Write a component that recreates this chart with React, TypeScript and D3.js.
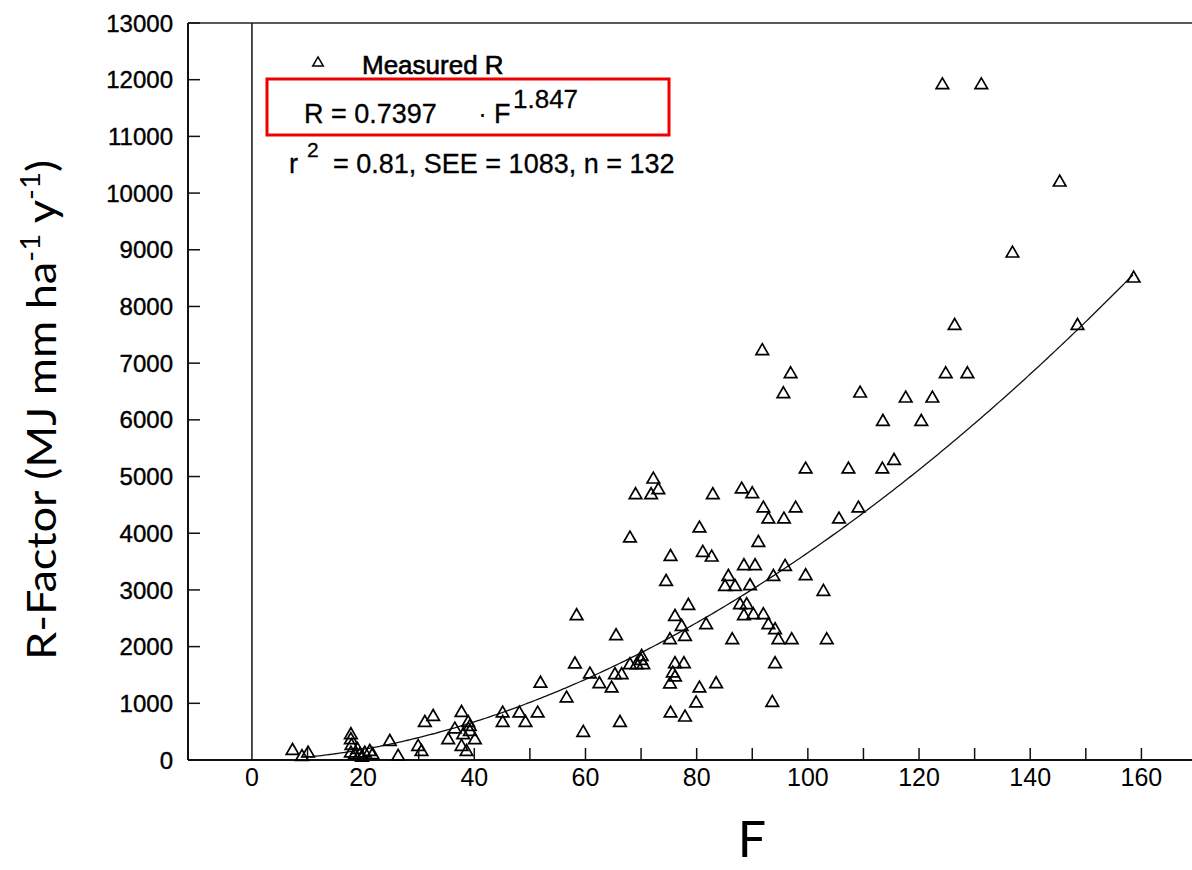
import React from "react";
import * as d3 from "d3";

// Measured points: F (x) and R-factor (y)
const measuredF = [
  7.3, 10.1, 9.0,
  17.8, 17.8, 17.9, 17.8, 18.5, 19.4, 20.3, 21.2, 21.7, 19.8, 19.0,
  24.8, 26.3, 29.9, 30.5,
  31.1, 32.6,
  37.7, 38.9, 36.5, 35.3, 38.0, 39.2, 40.1, 37.7, 38.6, 39.2,
  45.1, 45.1, 48.1, 49.2, 51.4, 51.9,
  56.6, 58.1, 58.4, 59.6, 60.8, 62.5, 64.7, 65.3, 66.5, 65.5, 66.2,
  68.0, 69.2, 70.4, 70.1, 70.0,
  68.0, 69.0, 71.8, 72.2, 73.1,
  74.5, 75.3, 75.2, 76.1, 77.3, 77.9, 78.5,
  76.1, 77.7, 75.7, 75.2, 76.1, 75.3, 77.9, 79.9, 80.5, 83.5,
  80.5, 81.1, 82.7, 81.7, 82.9,
  85.7, 85.1, 86.9, 89.6, 86.4,
  87.8, 89.0, 88.5, 90.2, 92.0, 92.9, 94.1, 94.7, 97.1, 103.4, 94.1, 93.6,
  88.1, 90.0, 92.0, 92.9, 95.7, 97.8, 91.1, 88.5, 90.5, 93.8, 95.9, 99.6, 102.8, 105.6, 109.1,
  99.6, 107.3, 113.4, 115.5, 91.8, 96.9, 95.6, 109.4, 113.5, 117.6, 120.4, 122.4,
  124.2, 131.2, 145.3, 136.8, 158.6, 148.5, 126.4, 124.8, 128.7,
];
const measuredR = [
  164, 118, 55,
  441, 353, 250, 118, 88, 88, 118, 146, 88, 45, 180,
  323, 59, 235, 146,
  658, 764,
  834, 658, 541, 353, 441, 499, 353, 235, 146, 587,
  823, 658, 823, 658, 823, 1350,
  1088, 1690, 2540, 482, 1511, 1340, 1264, 1499, 1499, 2187, 658,
  1676, 1676, 1676, 1822, 1750,
  3910, 4674, 4674, 4950, 4762,
  3145, 3586, 2116, 2527, 2351, 2175, 2721,
  1693, 1693, 1529, 1335, 1458, 823, 752, 1000, 1264, 1340,
  4086, 3657, 3574, 2381, 4674,
  3233, 3057, 3057, 3069, 2116,
  2734, 2734, 2540, 2557, 2557, 2381, 2293, 2116, 2116, 2116, 1693, 1011,
  4774, 4691, 4439, 4245, 4245, 4439, 3833, 3422, 3422, 3233, 3410, 3245, 2969, 4245, 4439,
  5127, 5127, 5127, 5279, 7216, 6808, 6455, 6467, 5967, 6379, 5967, 6379,
  11905, 11905, 10189, 8936, 8495, 7660, 7660, 6808, 6808,
];

const yTicks = [0, 1000, 2000, 3000, 4000, 5000, 6000, 7000, 8000, 9000, 10000, 11000, 12000, 13000];
const xTickLabels = [0, 20, 40, 60, 80, 100, 120, 140, 160];
const xMinorTicks = [10, 20, 30, 40, 50, 60, 70, 80, 90, 100, 110, 120, 130, 140, 150, 160];

const coefA = 0.7397;
const coefB = 1.847;
const fitStart = 10.5;
const fitEnd = 158.6;

export default function App() {
  const W = 1192;
  const H = 870;
  const left = 188;
  const right = 1192;
  const top = 23;
  const bottom = 760;

  const x = d3.scaleLinear().domain([-11.5, 169.1]).range([left, right]);
  const y = d3.scaleLinear().domain([0, 13000]).range([bottom, top]);

  const fitPts = d3.range(fitStart, fitEnd + 0.01, 0.5).map((f) => [f, coefA * Math.pow(f, coefB)] as [number, number]);
  const line = d3
    .line<[number, number]>()
    .x((d) => x(d[0]))
    .y((d) => y(d[1]));

  const tri = d3.symbol().type(d3.symbolTriangle).size(68)() as string;
  const triLegend = d3.symbol().type(d3.symbolTriangle).size(48)() as string;

  const font = "'Liberation Sans', Arial, sans-serif";

  return (
    <svg width={W} height={H} style={{ position: "absolute", left: 0, top: 0, background: "#fff" }}>
      <rect x={0} y={0} width={W} height={H} fill="#fff" />
      {/* frame */}
      <line x1={left} x2={right} y1={top} y2={top} stroke="#222" strokeWidth={1.6} />
      <line x1={left} x2={left} y1={top} y2={bottom} stroke="#111" strokeWidth={2} />
      <line x1={left} x2={right} y1={bottom} y2={bottom} stroke="#111" strokeWidth={2} />
      <line x1={x(0)} x2={x(0)} y1={top} y2={bottom} stroke="#111" strokeWidth={1.5} />

      {/* y ticks */}
      {yTicks.map((t) => (
        <g key={"y" + t}>
          <line x1={left} x2={left + 12} y1={y(t)} y2={y(t)} stroke="#111" strokeWidth={1.5} />
          <text
            x={173}
            y={y(t)}
            dy="0.36em"
            textAnchor="end"
            fontFamily={font}
            fontSize={24}
            fill="#000"
            stroke="#000"
            strokeWidth={0.4}
          >
            {t}
          </text>
        </g>
      ))}

      {/* x ticks */}
      {xMinorTicks.map((t) => (
        <line key={"xt" + t} x1={x(t)} x2={x(t)} y1={bottom} y2={bottom - 12} stroke="#111" strokeWidth={1.5} />
      ))}
      {xTickLabels.map((t) => (
        <text key={"xl" + t} x={x(t)} y={786} textAnchor="middle" fontFamily={font} fontSize={25} fill="#000">
          {t}
        </text>
      ))}

      {/* fitted curve */}
      <path d={line(fitPts) as string} fill="none" stroke="#111" strokeWidth={1.3} />

      {/* points */}
      {measuredF.map((f, i) => (
        <path
          key={"p" + i}
          d={tri}
          transform={`translate(${x(f)},${y(measuredR[i])})`}
          fill="none"
          stroke="#000"
          strokeWidth={1.7}
        />
      ))}

      {/* legend */}
      <path d={triLegend} transform="translate(318,63)" fill="none" stroke="#000" strokeWidth={1.5} />
      <text x={362} y={74} fontFamily={font} fontSize={26} fill="#000" stroke="#000" strokeWidth={0.6}>
        Measured R
      </text>

      {/* equation */}
      <rect x={267} y={79} width={402} height={56} fill="none" stroke="#ee0000" strokeWidth={3} />
      <text x={304} y={123} fontFamily={font} fontSize={27} fill="#000" stroke="#000" strokeWidth={0.3}>
        R = 0.7397
      </text>
      <text x={478} y={123} fontFamily={font} fontSize={27} fill="#000">
        ·
      </text>
      <text x={494} y={123} fontFamily={font} fontSize={27} fill="#000" stroke="#000" strokeWidth={0.3}>
        F
      </text>
      <text x={513} y={108} fontFamily={font} fontSize={26} fill="#000" stroke="#000" strokeWidth={0.3}>
        1.847
      </text>

      <text x={289} y={173} fontFamily={font} fontSize={27} fill="#000" stroke="#000" strokeWidth={0.3}>
        r
      </text>
      <text x={307} y={157} fontFamily={font} fontSize={21} fill="#000" stroke="#000" strokeWidth={0.3}>
        2
      </text>
      <text x={333} y={173} fontFamily={font} fontSize={27} fill="#000" stroke="#000" strokeWidth={0.3}>
        = 0.81, SEE = 1083, n = 132
      </text>

      {/* axis titles */}
      <text
        transform="translate(56,410) rotate(-90)"
        textAnchor="middle"
        fontFamily="Lato, 'Open Sans', sans-serif"
        fontSize={40}
        fill="#000"
        textLength={500}
        lengthAdjust="spacingAndGlyphs"
      >
        R-Factor (MJ mm ha
        <tspan fontSize={26} dy={-16}>-1</tspan>
        <tspan dy={16}> y</tspan>
        <tspan fontSize={26} dy={-16}>-1</tspan>
        <tspan dy={16}>)</tspan>
      </text>
      <text x={752} y={857} textAnchor="middle" fontFamily="Lato, 'Open Sans', sans-serif" fontSize={50} fill="#000">
        F
      </text>
    </svg>
  );
}
